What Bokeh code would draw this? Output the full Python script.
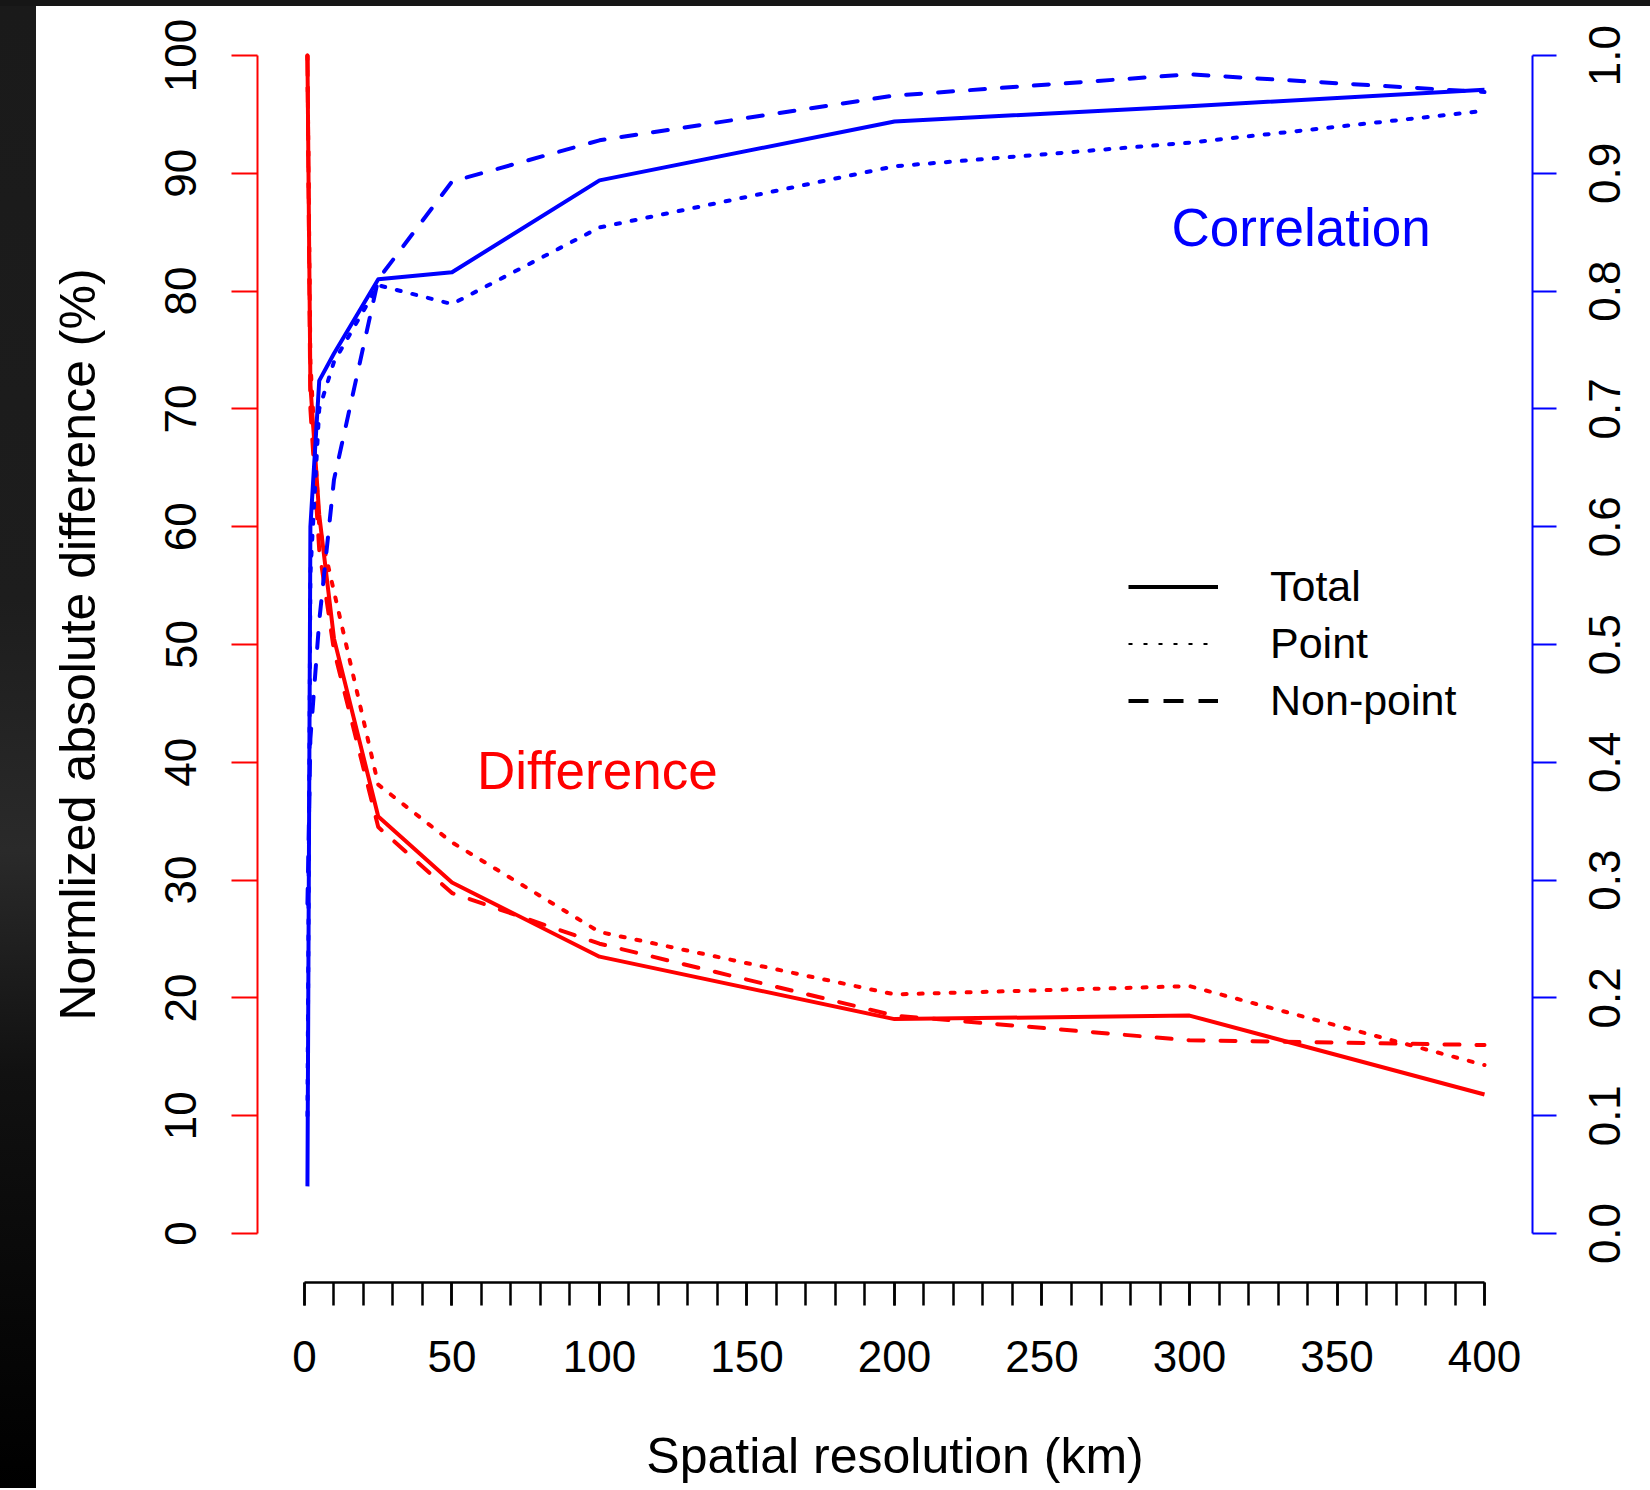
import math
from bokeh.plotting import figure
from bokeh.models import (Range1d, LinearAxis, FixedTicker, Legend, LegendItem,
                          Label, Div)
from bokeh.layouts import row, column
from bokeh.embed import file_html
from bokeh.resources import INLINE

# ---------------- data ----------------
resolution_km = [1, 2, 5, 10, 25, 50, 100, 200, 300, 400]

# Normalized absolute difference (%)  -> left axis (red)
diff_total = [100, 72, 61, 50.5, 35.4, 29.8, 23.5, 18.2, 18.5, 11.8]
diff_point = [100, 74, 60, 54.5, 38.1, 33.2, 25.6, 20.3, 21.0, 14.3]
diff_nonpoint = [100, 70, 58, 49.5, 34.5, 28.9, 24.6, 18.5, 16.4, 16.0]

# Correlation -> right axis (blue)
corr_total = [0.04, 0.60, 0.724, 0.747, 0.81, 0.816, 0.894, 0.944, 0.957, 0.971]
corr_point = [0.10, 0.56, 0.70, 0.74, 0.805, 0.789, 0.854, 0.906, 0.926, 0.953]
corr_nonpoint = [0.28, 0.42, 0.52, 0.64, 0.81, 0.893, 0.928, 0.966, 0.984, 0.969]

x_ticks = [0, 50, 100, 150, 200, 250, 300, 350, 400]
x_minor_ticks = list(range(0, 401, 10))
y_ticks = [0, 10, 20, 30, 40, 50, 60, 70, 80, 90, 100]
corr_ticks = [0.0, 0.1, 0.2, 0.3, 0.4, 0.5, 0.6, 0.7, 0.8, 0.9, 1.0]
corr_tick_labels = ["0.0", "0.1", "0.2", "0.3", "0.4", "0.5",
                    "0.6", "0.7", "0.8", "0.9", "1.0"]

legend_labels = ["Total", "Point", "Non-point"]

FONT = "Liberation Sans"

# ---------------- figure ----------------
p = figure(width=1614, height=1482,
           x_range=Range1d(-15.93, 416.27), y_range=Range1d(-4.16, 104.16),
           output_backend="svg", toolbar_location=None,
           x_axis_location=None, y_axis_location=None,
           min_border_left=221, min_border_right=118,
           min_border_top=0, min_border_bottom=206)
p.extra_y_ranges = {"corr": Range1d(-0.0416, 1.0416)}
p.outline_line_color = None
p.background_fill_color = "white"
p.border_fill_color = "white"
p.xgrid.grid_line_color = None
p.ygrid.grid_line_color = None

# bottom axis
xaxis = LinearAxis(ticker=FixedTicker(ticks=x_ticks, minor_ticks=x_minor_ticks),
                   bounds=(0, 400), axis_label="Spatial resolution (km)")
xaxis.axis_line_color = "black"
xaxis.axis_line_width = 2.5
xaxis.major_tick_line_color = "black"
xaxis.minor_tick_line_color = "black"
xaxis.major_tick_line_width = 2.5
xaxis.minor_tick_line_width = 2.5
xaxis.major_tick_out = 23
xaxis.major_tick_in = 0
xaxis.minor_tick_out = 23
xaxis.minor_tick_in = 0
xaxis.major_label_standoff = 35
xaxis.major_label_text_font = FONT
xaxis.major_label_text_font_size = "44px"
xaxis.major_label_text_color = "black"
xaxis.axis_label_text_font = FONT
xaxis.axis_label_text_font_size = "50px"
xaxis.axis_label_text_font_style = "normal"
xaxis.axis_label_text_color = "black"
xaxis.axis_label_standoff = 53
p.add_layout(xaxis, "below")

# left axis (difference, red)
yaxis = LinearAxis(ticker=FixedTicker(ticks=y_ticks), bounds=(0, 100),
                   axis_label="Normlized absolute difference (%)")
yaxis.axis_line_color = "red"
yaxis.axis_line_width = 2
yaxis.major_tick_line_color = "red"
yaxis.major_tick_line_width = 2
yaxis.major_tick_out = 26
yaxis.major_tick_in = 0
yaxis.minor_tick_line_color = None
yaxis.major_label_orientation = "parallel"
yaxis.major_label_standoff = 35
yaxis.major_label_text_font = FONT
yaxis.major_label_text_font_size = "44px"
yaxis.major_label_text_color = "black"
yaxis.axis_label_text_font = FONT
yaxis.axis_label_text_font_size = "50px"
yaxis.axis_label_text_font_style = "normal"
yaxis.axis_label_text_color = "black"
yaxis.axis_label_standoff = 57
p.add_layout(yaxis, "left")

# right axis (correlation, blue): line and ticks
raxis = LinearAxis(y_range_name="corr", ticker=FixedTicker(ticks=corr_ticks),
                   bounds=(0, 1))
raxis.axis_line_color = "blue"
raxis.axis_line_width = 2
raxis.major_tick_line_color = "blue"
raxis.major_tick_line_width = 2
raxis.major_tick_out = 24
raxis.major_tick_in = 0
raxis.minor_tick_line_color = None
raxis.major_label_text_color = None
raxis.major_label_text_font_size = "0px"
raxis.major_label_standoff = 0
p.add_layout(raxis, "right")

# right axis tick labels: rotated labels start at their anchor, so the anchors
# sit half a label length below each tick to centre the text on it
HALF_LABEL = 0.026
corr_label_anchor = [round(t - HALF_LABEL, 4) for t in corr_ticks]
raxis_labels = LinearAxis(y_range_name="corr",
                          ticker=FixedTicker(ticks=corr_label_anchor))
raxis_labels.major_label_overrides = dict(zip(corr_label_anchor, corr_tick_labels))
raxis_labels.axis_line_color = None
raxis_labels.major_tick_line_color = None
raxis_labels.minor_tick_line_color = None
raxis_labels.major_tick_out = 0
raxis_labels.major_tick_in = 0
raxis_labels.major_label_orientation = math.pi / 2
raxis_labels.major_label_standoff = 48
raxis_labels.major_label_text_font = FONT
raxis_labels.major_label_text_font_size = "44px"
raxis_labels.major_label_text_color = "black"
p.add_layout(raxis_labels, "right")

LW = 4
DOT = "4 12"
DASH = "15 17"

# difference lines (red)
p.line(resolution_km, diff_total, line_color="red", line_width=LW, line_join="round")
p.line(resolution_km, diff_point, line_color="red", line_width=LW, line_dash=DOT,
       line_cap="round")
p.line(resolution_km, diff_nonpoint, line_color="red", line_width=LW, line_dash=DASH,
       line_cap="round")

# correlation lines (blue)
p.line(resolution_km, corr_total, line_color="blue", line_width=LW, line_join="round",
       y_range_name="corr")
p.line(resolution_km, corr_point, line_color="blue", line_width=LW, line_dash=DOT,
       line_cap="round", y_range_name="corr")
p.line(resolution_km, corr_nonpoint, line_color="blue", line_width=LW, line_dash=DASH,
       line_cap="round", y_range_name="corr")

# legend (black proxies, hidden in the plot area but drawn in the legend)
leg_total = p.line(resolution_km, diff_total, line_color="black", line_width=4,
                   visible=False)
leg_point = p.line(resolution_km, diff_point, line_color="black", line_width=2,
                   line_dash="4 11", visible=False)
leg_nonpoint = p.line(resolution_km, diff_nonpoint, line_color="black", line_width=4,
                      line_dash="20 15", visible=False)
legend = Legend(items=[LegendItem(label=legend_labels[0], renderers=[leg_total]),
                       LegendItem(label=legend_labels[1], renderers=[leg_point]),
                       LegendItem(label=legend_labels[2], renderers=[leg_nonpoint])],
                location=(871, 553), orientation="vertical", click_policy="none",
                glyph_width=90, glyph_height=57, label_height=57, label_standoff=52,
                spacing=0, padding=0, margin=0,
                border_line_color=None, background_fill_alpha=0,
                label_text_font=FONT, label_text_font_size="43px",
                label_text_color="black")
p.add_layout(legend)

# in-plot labels
p.add_layout(Label(x=293.9, y=85.4, text="Correlation", text_color="blue",
                   text_font=FONT, text_font_size="53px", text_baseline="alphabetic"))
p.add_layout(Label(x=58.5, y=39.3, text="Difference", text_color="red",
                   text_font=FONT, text_font_size="53px", text_baseline="alphabetic"))

top_strip = Div(width=1650, height=6, margin=0, styles={"background": "#161616"})
side = Div(width=36, height=1482, margin=0,
           styles={"background": "linear-gradient(to bottom, #1a1a1a 0%, #1d1d1d 40%, "
                                 "#2a2a2a 57%, #111111 72%, #000000 100%)"})

layout = column(top_strip, row(side, p, spacing=0), spacing=0)

open("out.html", "w").write(file_html(layout, INLINE))
